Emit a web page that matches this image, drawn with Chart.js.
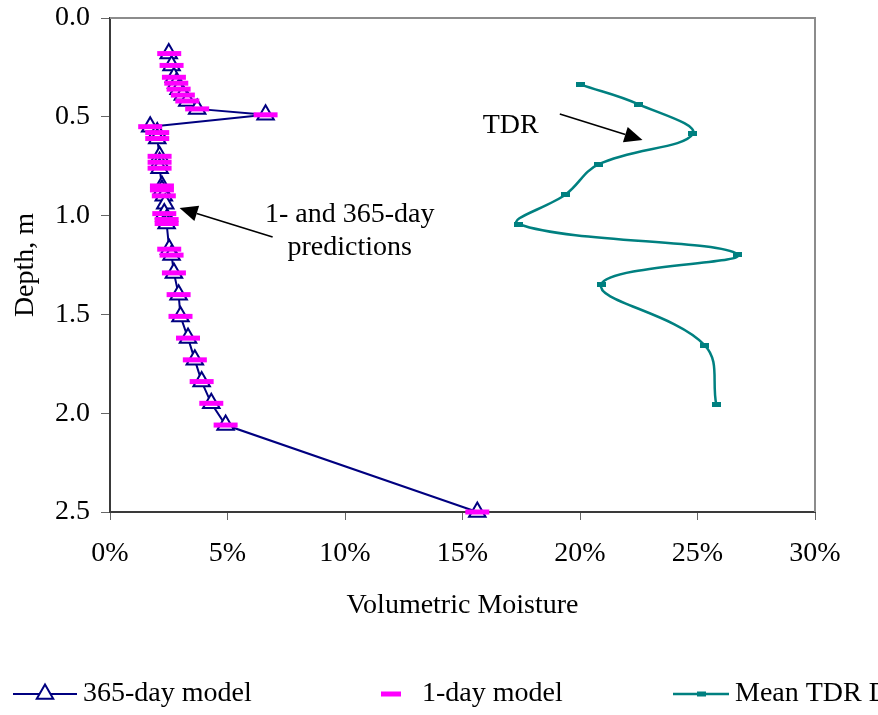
<!DOCTYPE html>
<html>
<head>
<meta charset="utf-8">
<script src="https://cdn.jsdelivr.net/npm/chart.js@4.4.1/dist/chart.umd.min.js"></script>
<style>
  html, body { margin: 0; padding: 0; background: #ffffff; overflow: hidden; }
  #wrap { position: relative; width: 878px; height: 715px; }
</style>
</head>
<body>
<div id="wrap"><canvas id="chart" width="878" height="715"></canvas></div>
<script>
// Model node depths (m) and simulated volumetric moisture (%)
const modelDepths = [0.18, 0.24, 0.30, 0.33, 0.36, 0.39, 0.42, 0.46, 0.49, 0.55, 0.58, 0.61,
                     0.70, 0.73, 0.76, 0.85, 0.87, 0.90, 0.94, 0.99, 1.02, 1.04, 1.17, 1.20,
                     1.29, 1.40, 1.51, 1.62, 1.73, 1.84, 1.95, 2.06, 2.50];
const model365Day = [2.50, 2.62, 2.72, 2.82, 2.92, 3.10, 3.29, 3.71, 6.62, 1.71, 2.01, 2.01,
                     2.11, 2.11, 2.11, 2.21, 2.21, 2.29, 2.35, 2.31, 2.41, 2.41, 2.52, 2.62,
                     2.72, 2.92, 3.00, 3.32, 3.61, 3.90, 4.31, 4.92, 15.63];
const model1Day   = [2.52, 2.62, 2.72, 2.82, 2.92, 3.10, 3.29, 3.71, 6.62, 1.71, 2.01, 2.01,
                     2.11, 2.11, 2.11, 2.21, 2.21, 2.29, null, 2.31, 2.41, 2.41, 2.52, 2.62,
                     2.72, 2.92, 3.00, 3.32, 3.61, 3.90, 4.31, 4.92, 15.63];

// Mean TDR readings
const tdrDepths   = [0.336, 0.437, 0.587, 0.740, 0.892, 1.044, 1.196, 1.348, 1.655, 1.958];
const tdrMoisture = [20.0, 22.5, 24.8, 20.8, 19.4, 17.4, 26.7, 20.9, 25.3, 25.8];

// Axis ticks
const depthTicks    = [0, 0.5, 1.0, 1.5, 2.0, 2.5];
const moistureTicks = [0, 5, 10, 15, 20, 25, 30];

const seriesNames = ['365-day model', '1-day model', 'Mean TDR Data'];

const FONT = "'Liberation Serif', 'Times New Roman', serif";
const FONT_SIZE = 28;
const NAVY = '#000080';
const MAGENTA = '#FF00FF';
const TEAL = '#008080';
const TRI_R = 9.5;

function pairs(xs, ys) {
  return ys.map((d, i) => ({ x: xs[i], y: d })).filter(p => p.x !== null);
}

// small flat rectangle used as the TDR marker
const tdrMarker = document.createElement('canvas');
tdrMarker.width = 9; tdrMarker.height = 5;
(function () {
  const c = tdrMarker.getContext('2d');
  c.fillStyle = TEAL;
  c.fillRect(0, 0, 9, 5);
})();

function drawArrow(ctx, x0, y0, x1, y1) {
  const ang = Math.atan2(y1 - y0, x1 - x0);
  const headLen = 18, headHalf = 8;
  const bx = x1 - headLen * Math.cos(ang), by = y1 - headLen * Math.sin(ang);
  ctx.save();
  ctx.strokeStyle = '#000';
  ctx.fillStyle = '#000';
  ctx.lineWidth = 1.6;
  ctx.beginPath();
  ctx.moveTo(x0, y0);
  ctx.lineTo(bx, by);
  ctx.stroke();
  ctx.beginPath();
  ctx.moveTo(x1, y1);
  ctx.lineTo(bx + headHalf * Math.sin(ang), by - headHalf * Math.cos(ang));
  ctx.lineTo(bx - headHalf * Math.sin(ang), by + headHalf * Math.cos(ang));
  ctx.closePath();
  ctx.fill();
  ctx.restore();
}

// Plot frame (top/right), callout labels and the legend row
const decorations = {
  id: 'decorations',
  afterDatasetsDraw(chart) {
    const { ctx, chartArea: a, scales: { x, y } } = chart;
    ctx.save();
    ctx.strokeStyle = '#8c8c8c';
    ctx.lineWidth = 2;
    ctx.beginPath();
    ctx.moveTo(a.left, a.top);
    ctx.lineTo(a.right, a.top);
    ctx.lineTo(a.right, a.bottom);
    ctx.stroke();
    ctx.restore();

    ctx.save();
    ctx.font = FONT_SIZE + 'px ' + FONT;
    ctx.fillStyle = '#000';
    ctx.textAlign = 'center';
    ctx.textBaseline = 'middle';
    ctx.fillText('TDR', x.getPixelForValue(17.05), y.getPixelForValue(0.545));
    ctx.fillText('1- and 365-day', x.getPixelForValue(10.2), y.getPixelForValue(0.995));
    ctx.fillText('predictions', x.getPixelForValue(10.2), y.getPixelForValue(1.162));
    ctx.restore();

    drawArrow(ctx, x.getPixelForValue(19.14), y.getPixelForValue(0.486),
                   x.getPixelForValue(22.66), y.getPixelForValue(0.617));
    drawArrow(ctx, x.getPixelForValue(6.92), y.getPixelForValue(1.108),
                   x.getPixelForValue(2.96), y.getPixelForValue(0.962));
  },
  afterDraw(chart) {
    const { ctx } = chart;
    const ly = 694;
    ctx.save();
    ctx.font = FONT_SIZE + 'px ' + FONT;
    ctx.textAlign = 'left';
    ctx.textBaseline = 'middle';

    // 365-day model
    ctx.strokeStyle = NAVY;
    ctx.lineWidth = 2;
    ctx.beginPath(); ctx.moveTo(13, ly); ctx.lineTo(77, ly); ctx.stroke();
    ctx.fillStyle = '#fff';
    const h = TRI_R * 0.866;
    ctx.beginPath();
    ctx.moveTo(45, ly - TRI_R); ctx.lineTo(45 + h, ly + TRI_R / 2); ctx.lineTo(45 - h, ly + TRI_R / 2); ctx.closePath();
    ctx.fill(); ctx.stroke();
    ctx.fillStyle = '#000';
    ctx.fillText(seriesNames[0], 83, ly);

    // 1-day model
    ctx.fillStyle = MAGENTA;
    ctx.fillRect(381, ly - 2.5, 20, 5);
    ctx.fillStyle = '#000';
    ctx.fillText(seriesNames[1], 422, ly);

    // Mean TDR
    ctx.strokeStyle = TEAL;
    ctx.lineWidth = 2.5;
    ctx.beginPath(); ctx.moveTo(673, ly); ctx.lineTo(729, ly); ctx.stroke();
    ctx.fillStyle = TEAL;
    ctx.fillRect(697, ly - 2.5, 9, 5);
    ctx.fillStyle = '#000';
    ctx.fillText(seriesNames[2], 735, ly);
    ctx.restore();
  }
};

new Chart(document.getElementById('chart'), {
  type: 'scatter',
  data: {
    datasets: [
      {
        label: seriesNames[0],
        data: pairs(model365Day, modelDepths),
        showLine: true,
        borderColor: NAVY,
        borderWidth: 2,
        pointStyle: 'triangle',
        pointRadius: TRI_R,
        pointBorderWidth: 2,
        pointBorderColor: NAVY,
        pointBackgroundColor: '#ffffff',
        order: 1,
        clip: false
      },
      {
        label: seriesNames[1],
        data: pairs(model1Day, modelDepths),
        showLine: false,
        pointStyle: 'line',
        pointRadius: 12,
        pointBorderWidth: 5,
        pointBorderColor: MAGENTA,
        borderColor: MAGENTA,
        order: 0,
        clip: false
      },
      {
        label: seriesNames[2],
        data: pairs(tdrMoisture, tdrDepths),
        showLine: true,
        tension: 0.4,
        borderColor: TEAL,
        borderWidth: 2.5,
        pointStyle: tdrMarker,
        pointRadius: 4,
        order: 2,
        clip: false
      }
    ]
  },
  options: {
    responsive: false,
    animation: false,
    events: [],
    layout: { padding: { left: 0, right: 63, top: 18, bottom: 93 } },
    plugins: {
      legend: { display: false },
      tooltip: { enabled: false }
    },
    scales: {
      x: {
        type: 'linear',
        min: 0, max: 30,
        afterBuildTicks: s => { s.ticks = moistureTicks.map(v => ({ value: v })); },
        afterFit: s => { s.height = 110; s.paddingLeft = 0; s.paddingRight = 0; },
        grid: { drawOnChartArea: false, drawTicks: true, tickLength: 8, color: '#666', lineWidth: 1 },
        border: { color: '#3a3a3a', width: 2 },
        ticks: {
          color: '#000',
          font: { family: FONT, size: FONT_SIZE },
          padding: 17,
          maxRotation: 0,
          callback: v => v + '%'
        },
        title: {
          display: true,
          text: 'Volumetric Moisture',
          color: '#000',
          font: { family: FONT, size: FONT_SIZE },
          padding: { top: 0, bottom: 0 }
        }
      },
      y: {
        type: 'linear',
        reverse: true,
        min: 0, max: 2.5,
        afterBuildTicks: s => { s.ticks = depthTicks.map(v => ({ value: v })); },
        afterFit: s => { s.width = 110; s.paddingTop = 0; s.paddingBottom = 0; },
        grid: { drawOnChartArea: false, drawTicks: true, tickLength: 9, color: '#666', lineWidth: 1 },
        border: { color: '#3a3a3a', width: 2 },
        ticks: {
          color: '#000',
          font: { family: FONT, size: FONT_SIZE },
          padding: 11,
          callback: v => Number(v).toFixed(1)
        },
        title: {
          display: true,
          text: 'Depth, m',
          color: '#000',
          font: { family: FONT, size: FONT_SIZE },
          padding: { top: 9, bottom: 0 }
        }
      }
    }
  },
  plugins: [decorations]
});
</script>
</body>
</html>
